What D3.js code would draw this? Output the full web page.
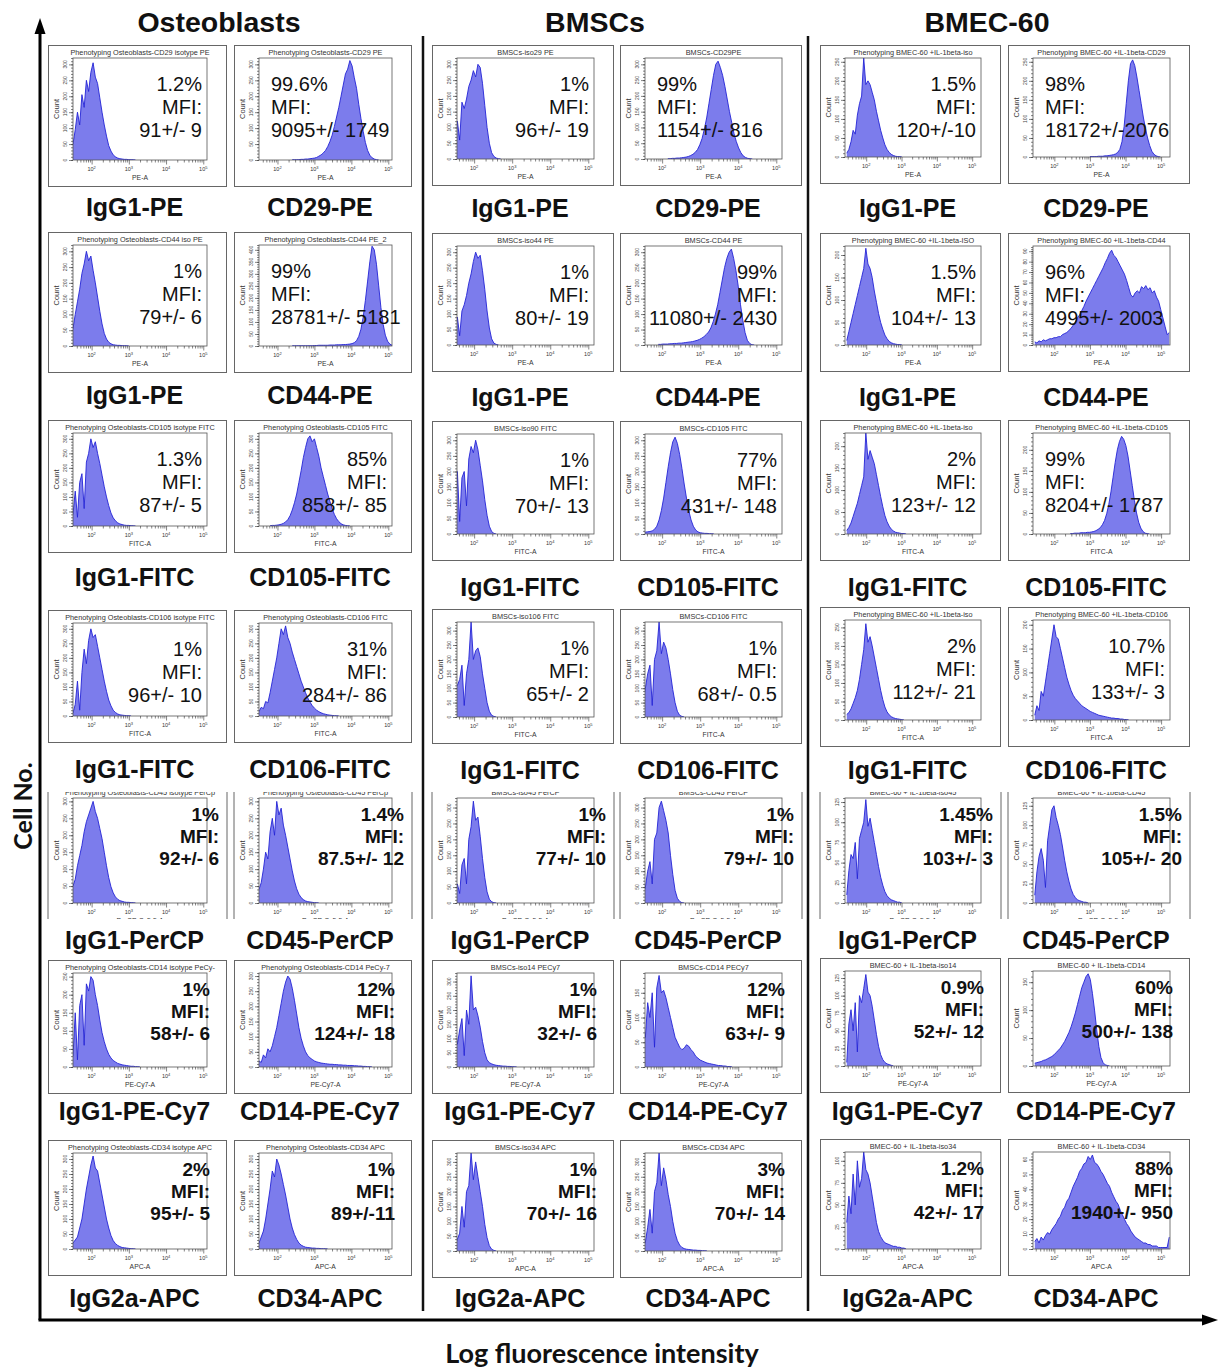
<!DOCTYPE html>
<html>
<head>
<meta charset="utf-8">
<script src="https://cdn.jsdelivr.net/npm/d3@7"></script>
<style>
  body { margin: 0; background: #fff; }
  svg { display: block; font-family: "Liberation Sans", Arial, sans-serif; }
</style>
</head>
<body>
<svg id="fig" width="1222" height="1367"></svg>
<script>
// ---------------- data ----------------
const LOG_STEP = 0.06;   // histogram bin width in decades

const cellTypes = ["Osteoblasts", "BMSCs", "BMEC-60"];
const isotypes = ["IgG1-PE", "IgG1-PE", "IgG1-FITC", "IgG1-FITC", "IgG1-PerCP", "IgG1-PE-Cy7", "IgG2a-APC"];
const antigens = ["CD29-PE", "CD44-PE", "CD105-FITC", "CD106-FITC", "CD45-PerCP", "CD14-PE-Cy7", "CD34-APC"];
const channels = ["PE-A", "PE-A", "FITC-A", "FITC-A", "PerCP-Cy5-5-A", "PE-Cy7-A", "APC-A"];
const decadeTicks = [2, 3, 4, 5];

// Osteoblasts (row by row: isotype, antigen)
const osteoTitles = [
  "Phenotyping Osteoblasts-CD29 isotype PE", "Phenotyping Osteoblasts-CD29 PE",
  "Phenotyping Osteoblasts-CD44 iso PE", "Phenotyping Osteoblasts-CD44 PE_2",
  "Phenotyping Osteoblasts-CD105 isotype FITC", "Phenotyping Osteoblasts-CD105 FITC",
  "Phenotyping Osteoblasts-CD106 isotype FITC", "Phenotyping Osteoblasts-CD106 FITC",
  "Phenotyping Osteoblasts-CD45 isotype PerCp", "Phenotyping Osteoblasts-CD45 PerCp",
  "Phenotyping Osteoblasts-CD14 isotype PeCy-", "Phenotyping Osteoblasts-CD14 PeCy-7",
  "Phenotyping Osteoblasts-CD34 isotype APC", "Phenotyping Osteoblasts-CD34 APC"
];
const osteoPercent = ["1.2%", "99.6%", "1%", "99%", "1.3%", "85%", "1%", "31%", "1%", "1.4%", "1%", "12%", "2%", "1%"];
const osteoMFI = ["91+/- 9", "9095+/- 1749", "79+/- 6", "28781+/- 5181", "87+/- 5", "858+/- 85", "96+/- 10", "284+/- 86",
  "92+/- 6", "87.5+/- 12", "58+/- 6", "124+/- 18", "95+/- 5", "89+/-11"];
const osteoYMax = [320, 320, 320, 420, 320, 320, 320, 320, 310, 310, 260, 310, 320, 320];
const osteoYStep = [50, 50, 50, 50, 50, 50, 50, 50, 50, 50, 50, 50, 50, 50];
const osteoHist = [
  [1.5, [50,95,150,110,205,165,250,215,275,305,260,240,195,150,110,75,45,28,16,10,6,4,3,2,2,1,1,1,0]],
  [2.4, [1,1,1,1,2,2,3,3,4,5,6,8,12,16,22,30,42,58,78,105,135,165,200,235,270,285,312,295,258,225,175,130,90,55,30,15,7,3,1,0]],
  [1.5, [55,100,140,180,230,260,300,270,285,240,200,155,110,70,40,22,12,7,4,3,2,2,1,1,1,0]],
  [2.4, [1,1,1,1,1,1,1,1,1,1,2,2,3,3,3,3,3,4,4,4,5,5,5,6,6,7,8,10,14,22,40,70,120,190,270,350,415,400,340,250,160,90,45,20,8,3,1,0]],
  [1.5, [40,120,30,150,180,60,220,250,300,270,290,250,215,175,135,100,70,45,28,18,11,7,5,3,2,2,1,1,0]],
  [1.8, [1,2,2,3,4,6,9,14,22,35,55,80,110,150,190,235,270,300,310,290,300,270,240,200,170,140,110,85,60,40,25,15,8,4,2,1,0]],
  [1.5, [10,40,120,20,150,230,180,260,300,270,280,240,200,160,120,85,55,35,20,12,7,4,3,2,1,1,0]],
  [1.5, [15,30,25,50,45,80,120,160,200,250,300,280,310,270,250,220,195,170,145,120,100,80,62,48,36,27,20,15,11,8,6,4,3,2,1,1,0]],
  [1.5, [50,70,110,140,170,210,240,260,280,300,270,250,220,190,150,110,75,48,30,18,11,7,5,3,2,2,1,1,0]],
  [1.5, [40,60,100,150,130,210,250,200,300,260,280,230,200,165,130,95,65,42,26,16,10,6,4,3,2,1,1,0]],
  [1.5, [30,150,20,170,200,60,230,210,250,240,200,170,130,95,70,50,35,25,18,14,10,8,6,5,4,3,2,2,1,1,0]],
  [1.5, [20,15,40,30,60,50,70,100,130,170,210,250,280,300,290,260,220,175,130,95,70,50,38,30,25,20,17,15,13,12,11,10,9,9,8,8,7,7,6,6,5,5,5,4,4,3,3,2,2,1,1,0]],
  [1.5, [20,30,40,70,100,150,200,240,280,310,270,260,220,180,140,100,70,45,28,18,12,8,5,4,3,2,1,1,0]],
  [1.5, [20,40,60,100,150,200,260,240,300,280,250,215,180,140,100,70,48,32,20,13,9,6,5,4,3,3,2,2,1,1,1,0]]
];

// BMSCs
const bmscTitles = [
  "BMSCs-iso29 PE", "BMSCs-CD29PE", "BMSCs-iso44 PE", "BMSCs-CD44 PE",
  "BMSCs-iso90 FITC", "BMSCs-CD105 FITC", "BMSCs-iso106 FITC", "BMSCs-CD106 FITC",
  "BMSCs-iso45 PerCP", "BMSCs-CD45 PerCP", "BMSCs-iso14 PECy7", "BMSCs-CD14 PECy7",
  "BMSCs-iso34 APC", "BMSCs-CD34 APC"
];
const bmscPercent = ["1%", "99%", "1%", "99%", "1%", "77%", "1%", "1%", "1%", "1%", "1%", "12%", "1%", "3%"];
const bmscMFI = ["96+/- 19", "1154+/- 816", "80+/- 19", "11080+/- 2430", "70+/- 13", "431+/- 148", "65+/- 2", "68+/- 0.5",
  "77+/- 10", "79+/- 10", "32+/- 6", "63+/- 9", "70+/- 16", "70+/- 14"];
const bmscYMax = [320, 320, 320, 320, 320, 320, 330, 330, 330, 330, 330, 190, 330, 330];
const bmscYStep = [50, 50, 50, 50, 50, 50, 50, 50, 50, 50, 50, 50, 50, 50];
const bmscHist = [
  [1.5, [40,120,60,180,160,190,230,250,280,260,300,290,240,170,100,50,20,8,3,1,0]],
  [2.15, [1,1,2,2,3,3,4,5,6,8,11,15,21,30,45,65,95,130,175,220,265,300,310,290,265,230,190,150,115,80,55,35,20,10,5,2,1,0]],
  [1.5, [40,90,30,110,130,160,200,230,270,300,280,290,240,180,110,55,20,6,2,0]],
  [1.9, [2,2,3,3,3,4,4,5,5,6,6,7,8,9,10,11,13,15,18,22,27,34,42,55,75,100,130,170,210,250,280,300,310,280,240,190,130,80,40,15,5,1,0]],
  [1.5, [60,200,40,180,200,90,240,280,260,300,270,220,170,110,60,25,8,2,0]],
  [1.5, [5,6,7,8,10,15,25,45,75,115,165,215,260,295,310,290,255,210,160,115,75,45,25,13,7,4,3,2,2,1,1,0]],
  [1.5, [100,110,130,180,40,150,200,330,200,230,240,210,150,100,50,20,6,2,0]],
  [1.5, [60,100,150,180,40,200,230,330,220,260,240,200,150,95,50,20,6,2,0]],
  [1.5, [40,60,30,120,140,60,200,240,320,260,270,210,140,80,35,12,4,1,0]],
  [1.5, [30,50,100,130,60,200,220,300,320,290,260,220,150,90,40,15,5,1,0]],
  [1.5, [150,80,130,170,40,200,150,320,200,210,180,140,90,50,25,15,11,8,6,5,4,3,3,2,2,1,1,0]],
  [1.5, [90,60,130,100,150,40,160,185,150,155,140,120,100,80,60,50,40,35,38,45,42,35,30,22,18,14,12,10,8,7,6,5,4,3,3,2,2,1,1,0]],
  [1.5, [20,40,60,150,80,200,220,330,240,300,250,200,150,90,45,18,6,2,0]],
  [1.5, [15,30,80,140,60,200,230,330,220,280,240,190,150,100,60,35,20,12,8,6,5,4,3,3,2,2,1,1,0]]
];

// BMEC-60
const bmecTitles = [
  "Phenotyping BMEC-60 +IL-1beta-iso", "Phenotyping BMEC-60 +IL-1beta-CD29",
  "Phenotyping BMEC-60 +IL-1beta-ISO", "Phenotyping BMEC-60 +IL-1beta-CD44",
  "Phenotyping BMEC-60 +IL-1beta-iso", "Phenotyping BMEC-60 +IL-1beta-CD105",
  "Phenotyping BMEC-60 +IL-1beta-iso", "Phenotyping BMEC-60 +IL-1beta-CD106",
  "BMEC-60 + IL-1beta-iso45", "BMEC-60 + IL-1beta-CD45",
  "BMEC-60 + IL-1beta-iso14", "BMEC-60 + IL-1beta-CD14",
  "BMEC-60 + IL-1beta-iso34", "BMEC-60 + IL-1beta-CD34"
];
const bmecPercent = ["1.5%", "98%", "1.5%", "96%", "2%", "99%", "2%", "10.7%", "1.45%", "1.5%", "0.9%", "60%", "1.2%", "88%"];
const bmecMFI = ["120+/-10", "18172+/-2076", "104+/- 13", "4995+/- 2003", "123+/- 12", "8204+/- 1787", "112+/- 21", "133+/- 3",
  "103+/- 3", "105+/- 20", "52+/- 12", "500+/- 138", "42+/- 17", "1940+/- 950"];
const bmecYMax = [260, 260, 220, 95, 230, 240, 270, 210, 130, 135, 135, 170, 110, 65];
const bmecYStep = [50, 50, 50, 10, 50, 50, 50, 50, 25, 25, 25, 50, 25, 10];
const bmecHist = [
  [1.45, [10,20,40,70,60,110,140,160,260,190,200,190,170,150,120,95,70,50,32,20,12,7,4,2,1,1,0]],
  [3.0, [1,1,1,1,2,2,2,3,3,4,5,6,8,12,20,40,80,140,200,245,255,240,210,175,140,105,75,50,30,15,7,3,1,0]],
  [1.45, [10,30,50,70,90,110,130,150,170,215,180,170,150,120,95,70,50,35,22,14,8,5,3,2,1,1,0]],
  [1.45, [3,2,4,3,5,4,5,6,6,7,7,8,8,10,11,12,14,16,19,22,26,29,33,37,42,46,50,54,58,62,66,70,74,79,83,88,91,86,84,80,76,72,68,62,55,48,46,50,52,50,56,54,57,53,55,50,52,46,42,34,26,18,10,12]],
  [1.45, [8,15,25,40,55,70,90,110,130,230,170,190,175,160,135,110,85,62,42,28,18,11,7,4,3,2,1,1,0]],
  [2.45, [1,1,2,2,2,3,3,3,4,4,5,6,8,11,15,22,32,48,70,100,135,170,200,220,232,225,210,185,150,115,80,50,28,14,6,2,1,0]],
  [1.45, [15,20,30,45,60,80,110,150,190,260,210,225,200,170,140,110,80,55,35,22,14,9,6,4,3,2,1,0]],
  [1.45, [10,30,20,60,50,80,110,140,170,200,175,170,150,130,110,90,75,62,52,45,40,35,30,27,24,21,18,16,14,12,10,9,8,7,6,5,4,4,3,3,2,2,1,1,0]],
  [1.45, [10,40,60,55,75,30,80,90,100,128,95,105,90,75,60,45,32,22,14,9,6,4,3,2,1,1,0]],
  [1.45, [10,40,60,70,55,20,80,100,120,125,110,100,88,72,55,40,28,18,11,7,4,3,2,1,1,0]],
  [1.45, [5,60,80,50,90,20,100,90,110,130,105,100,85,65,45,28,16,9,5,3,2,1,0]],
  [1.45, [5,6,7,8,10,11,13,15,17,20,24,28,32,38,44,52,60,70,82,95,110,125,140,150,160,165,155,130,100,65,35,15,6,2,1,0]],
  [1.45, [30,60,40,85,50,100,70,80,110,90,85,75,60,45,30,20,14,10,7,6,5,4,3,3,2,2,1,1,0]],
  [1.45, [5,7,4,8,6,9,11,10,13,15,17,20,22,26,28,32,34,38,42,45,48,52,54,57,58,62,60,63,58,57,55,52,50,47,44,42,38,35,32,30,26,23,20,17,15,12,10,8,7,6,5,4,4,3,3,2,2,2,1,1,1,1,1,8]]
];

const columns = [
  { titles: osteoTitles, percent: osteoPercent, mfi: osteoMFI, yMax: osteoYMax, yStep: osteoYStep, hist: osteoHist },
  { titles: bmscTitles, percent: bmscPercent, mfi: bmscMFI, yMax: bmscYMax, yStep: bmscYStep, hist: bmscHist },
  { titles: bmecTitles, percent: bmecPercent, mfi: bmecMFI, yMax: bmecYMax, yStep: bmecYStep, hist: bmecHist }
];

// ---------------- layout ----------------
const panelX = [[48, 234], [432, 620], [820, 1008]];
const panelW = [[179, 178], [182, 182], [181, 182]];
// [box top, box height, caption centre] for each row
const panelRows = [
  [[45, 142, 207], [232, 141, 395], [420, 133, 577], [610, 133, 769], [785, 145, 940], [960, 134, 1111], [1140, 136, 1298]],
  [[45, 141, 208], [233, 139, 397], [421, 140, 587], [609, 135, 770], [785, 145, 940], [960, 134, 1111], [1140, 138, 1298]],
  [[45, 139, 208], [233, 139, 397], [420, 141, 587], [607, 140, 770], [785, 145, 940], [958, 135, 1111], [1139, 137, 1298]]
];
const xLogDomain = [[1.5, 5.1], [1.55, 5.15], [1.4, 5.25]];
const leftAlignedText = new Set(["0-1", "0-3", "1-1", "2-1", "2-3", "2-5"]);
const croppedRow = 4;           // the PerCP row is trimmed top and bottom
const cropTop = 792, cropBottom = 919;

const FILL = "#7c7cec", EDGE = "#2424d6";

const svg = d3.select("#fig");
const defs = svg.append("defs");
let clipCount = 0;

function drawPanel(o) {
  const g = svg.append("g").attr("transform", `translate(${o.x},${o.y})`);
  const pl = 25, pr = o.w - 20, pt = 13, pb = o.h - 27;

  let body = g;
  if (o.cropped) {
    const id = "crop" + (clipCount++);
    defs.append("clipPath").attr("id", id).append("rect")
      .attr("x", -2).attr("y", cropTop - o.y).attr("width", o.w + 4).attr("height", cropBottom - cropTop);
    body = g.append("g").attr("clip-path", `url(#${id})`);
    [0, o.w].forEach(xx => body.append("line")
      .attr("x1", xx).attr("x2", xx).attr("y1", cropTop - o.y - 3).attr("y2", cropBottom - o.y)
      .attr("stroke", "#666").attr("stroke-width", 1));
  } else {
    const id = "box" + (clipCount++);
    defs.append("clipPath").attr("id", id).append("rect")
      .attr("x", 0).attr("y", 0).attr("width", o.w).attr("height", o.h);
    body = g.append("g").attr("clip-path", `url(#${id})`);
    g.append("rect").attr("x", 0.5).attr("y", 0.5).attr("width", o.w - 1).attr("height", o.h - 1)
      .attr("fill", "none").attr("stroke", "#666").attr("stroke-width", 1);
  }

  const x = d3.scaleLog().domain([10 ** o.domain[0], 10 ** o.domain[1]]).range([pl, pr]);
  const y = d3.scaleLinear().domain([0, o.yMax]).range([pb, pt]);

  // histogram
  const hid = "plot" + (clipCount++);
  defs.append("clipPath").attr("id", hid).append("rect")
    .attr("x", pl).attr("y", pt).attr("width", pr - pl).attr("height", pb - pt);
  const [start, counts] = o.hist;
  const pts = counts.map((c, i) => [10 ** (start + i * LOG_STEP), c]);
  const hg = body.append("g").attr("clip-path", `url(#${hid})`);
  hg.append("path").datum(pts)
    .attr("d", d3.area().x(d => x(d[0])).y0(y(0)).y1(d => y(d[1])))
    .attr("fill", FILL);
  hg.append("path").datum(pts)
    .attr("d", d3.line().x(d => x(d[0])).y(d => y(d[1])))
    .attr("fill", "none").attr("stroke", EDGE).attr("stroke-width", 0.9);

  // plot frame
  body.append("rect").attr("x", pl).attr("y", pt).attr("width", pr - pl).attr("height", pb - pt)
    .attr("fill", "none").attr("stroke", "#555").attr("stroke-width", 0.8);

  // axes
  const minorX = [];
  for (let d = 1; d <= 5; d++) for (let k = 2; k <= 9; k++) {
    const v = k * 10 ** d;
    if (v > x.domain()[0] && v < x.domain()[1]) minorX.push(v);
  }
  const majorX = decadeTicks.map(p => 10 ** p).filter(v => v < x.domain()[1]);
  const axStyle = s => {
    s.select(".domain").remove();
    s.selectAll("line").attr("stroke", "#333").attr("stroke-width", 0.6);
  };
  body.append("g").attr("transform", `translate(0,${pb})`)
    .call(d3.axisBottom(x).tickValues(minorX).tickSize(2.5).tickFormat("")).call(axStyle);
  body.append("g").attr("transform", `translate(0,${pb})`)
    .call(d3.axisBottom(x).tickValues(majorX).tickSize(4.5).tickFormat("")).call(axStyle);
  majorX.forEach(v => {
    const t = body.append("text").attr("x", x(v)).attr("y", pb + 11)
      .attr("text-anchor", "middle").attr("font-size", 5.5).attr("fill", "#333").text("10");
    t.append("tspan").attr("dy", -2.5).attr("font-size", 4).text(Math.round(Math.log10(v)));
  });

  const majorY = d3.range(0, o.yMax + 1e-6, o.yStep);
  const minorY = d3.range(0, o.yMax + 1e-6, o.yStep / 5);
  body.append("g").attr("transform", `translate(${pl},0)`)
    .call(d3.axisLeft(y).tickValues(minorY).tickSize(2).tickFormat("")).call(axStyle);
  body.append("g").attr("transform", `translate(${pl},0)`)
    .call(d3.axisLeft(y).tickValues(majorY).tickSize(4).tickFormat("")).call(axStyle);
  majorY.forEach(v => {
    body.append("text").attr("transform", `translate(${pl - 6},${y(v)}) rotate(-90)`)
      .attr("text-anchor", "middle").attr("font-size", 5).attr("fill", "#444").text(v);
  });

  // small panel texts
  body.append("text").attr("x", (pl + pr) / 2).attr("y", pt - 3)
    .attr("text-anchor", "middle").attr("font-size", 7.3).attr("fill", "#333").text(o.title);
  body.append("text").attr("transform", `translate(11,${(pt + pb) / 2}) rotate(-90)`)
    .attr("text-anchor", "middle").attr("font-size", 7.5).attr("fill", "#333").text("Count");
  body.append("text").attr("x", (pl + pr) / 2).attr("y", pb + 20)
    .attr("text-anchor", "middle").attr("font-size", 6.8).attr("fill", "#333").text(o.channel);

  // percentage and MFI
  const lines = [o.percent, "MFI:", o.mfi];
  const offs = o.bold ? [23, 45, 67] : [33, 56, 79];
  const rightEdge = o.cropped ? o.w - 8 : (o.bold ? o.w - 17 : pr - 5);
  lines.forEach((s, i) => {
    body.append("text")
      .attr("x", o.leftText ? pl + 12 : rightEdge).attr("y", pt + offs[i])
      .attr("text-anchor", o.leftText ? "start" : "end")
      .attr("font-size", o.bold ? 19 : 20).attr("font-weight", o.bold ? 700 : 400)
      .attr("fill", "#111").text(s);
  });

  // marker caption beneath the panel
  svg.append("text").attr("x", o.x + o.w / 2 - 3).attr("y", o.captionY)
    .attr("text-anchor", "middle").attr("dominant-baseline", "central")
    .attr("font-size", 25).attr("font-weight", 700).attr("fill", "#111").text(o.caption);
}

columns.forEach((col, ci) => {
  for (let r = 0; r < 7; r++) {
    for (let side = 0; side < 2; side++) {
      const k = r * 2 + side;
      const [top, h, capY] = panelRows[ci][r];
      drawPanel({
        x: panelX[ci][side], y: top, w: panelW[ci][side], h,
        captionY: capY,
        caption: side === 0 ? isotypes[r] : antigens[r],
        channel: channels[r],
        title: col.titles[k],
        percent: col.percent[k], mfi: col.mfi[k],
        yMax: col.yMax[k], yStep: col.yStep[k], hist: col.hist[k],
        domain: xLogDomain[ci],
        leftText: leftAlignedText.has(`${ci}-${k}`),
        bold: r >= 4,
        cropped: r === croppedRow
      });
    }
  }
});

// column headings
const headX = [219, 595, 987];
cellTypes.forEach((t, i) => {
  svg.append("text").attr("x", headX[i]).attr("y", 22).attr("text-anchor", "middle")
    .attr("dominant-baseline", "central").attr("font-size", 28.5).attr("font-weight", 700)
    .attr("fill", "#111").text(t);
});

// column separators
[423, 808].forEach(xx => svg.append("line").attr("x1", xx).attr("x2", xx).attr("y1", 36).attr("y2", 1311)
  .attr("stroke", "#111").attr("stroke-width", 2.5));

// outer axes with arrowheads
svg.append("line").attr("x1", 40).attr("x2", 40).attr("y1", 1320).attr("y2", 32)
  .attr("stroke", "#000").attr("stroke-width", 3);
svg.append("path").attr("d", "M40,18 L34.5,34 L45.5,34 Z").attr("fill", "#000");
svg.append("line").attr("x1", 38.5).attr("x2", 1204).attr("y1", 1320).attr("y2", 1320)
  .attr("stroke", "#000").attr("stroke-width", 3);
svg.append("path").attr("d", "M1218,1320 L1202,1314.5 L1202,1325.5 Z").attr("fill", "#000");

svg.append("text").attr("transform", "translate(22,806) rotate(-90)").attr("text-anchor", "middle")
  .attr("dominant-baseline", "central").attr("font-family", "Lato, 'Open Sans', sans-serif")
  .attr("font-size", 25).attr("font-weight", 700).attr("fill", "#111").text("Cell No.");
svg.append("text").attr("x", 602).attr("y", 1352).attr("text-anchor", "middle")
  .attr("dominant-baseline", "central").attr("font-family", "Lato, 'Open Sans', sans-serif")
  .attr("font-size", 27).attr("font-weight", 700).attr("fill", "#111").text("Log fluorescence intensity");
</script>
</body>
</html>
